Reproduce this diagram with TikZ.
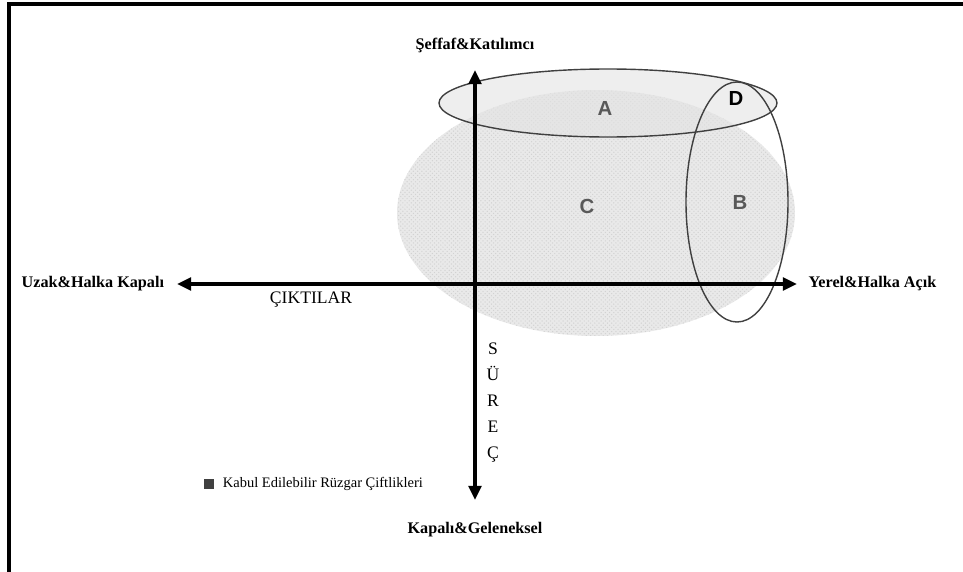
\documentclass[tikz,border=0pt]{standalone}
\usepackage{fontspec}
\setmainfont{Liberation Serif}
\newfontfamily\letterfont{Liberation Sans}
\usepackage{tikz}
\usetikzlibrary{arrows.meta,positioning,patterns}

\tikzset{
  axislabel/.style={font=\fontsize{11.5}{13}\selectfont\bfseries, inner sep=0pt},
  plainlabel/.style={font=\fontsize{12.5}{14}\selectfont, inner sep=0pt},
  zone/.style={font=\letterfont\fontsize{14.5}{16}\selectfont\bfseries, text=black!65, inner sep=0pt},
  axis/.style={line width=2.6pt, {Triangle[length=10pt,width=9pt]}-{Triangle[length=10pt,width=9pt]}},
  frame/.style={line width=2.2pt}
}

\begin{document}
\begin{tikzpicture}[x=0.025cm, y=-0.025cm]
            \useasboundingbox (0,0) rectangle (963,572);

            % Frame
            \coordinate (ftr) at (963,4);
            \coordinate (ftl) at (9,4);
            \coordinate (fbl) at (9,572);
            \draw[frame] (ftr) -- (ftl) -- (fbl);

            % Regions
            \fill[gray!17] (596,213) ellipse [x radius=199, y radius=123];
            \fill[pattern=crosshatch dots, pattern color=gray!35] (596,213) ellipse [x radius=199, y radius=123];
            \draw[black!75, fill=gray!22, fill opacity=0.6, line width=1pt] (608,103) ellipse [x radius=169, y radius=34];
            \draw[black!75, line width=1pt] (737,202) ellipse [x radius=51, y radius=120];

            \node[zone] (a) at (605,108) {A};
            \node[zone] (c) at (587,206) {C};
            \node[zone] (b) at (740,202) {B};
            \node[zone, text=black] (d) at (736,98) {D};

            % Axes
            \coordinate (west) at (177,284);
            \coordinate (east) at (797,284);
            \coordinate (north) at (475,70);
            \coordinate (south) at (475,500);
            \draw[axis] (west) -- (east);
            \draw[axis] (south) -- (north);

            % Axis labels
            \node[axislabel] (seffaf) at (475,45) {Şeffaf\&Katılımcı};
            \node[axislabel] (kapali) at (475,530) {Kapalı\&Geleneksel};
            \node[axislabel, left=9pt of west] (uzak) {Uzak\&Halka Kapalı};
            \node[axislabel, right=8pt of east] (yerel) {Yerel\&Halka Açık};
            \node[plainlabel] (cikti) at (311,300) {ÇIKTILAR};
            \node[plainlabel, align=center, font=\fontsize{12.5}{18.5}\selectfont] (surec) at (493,403) {S\\Ü\\R\\E\\Ç};

            % Legend
            \node[fill=black!75, minimum size=7pt, inner sep=0pt] (key) at (209,484) {};
            \node[font=\fontsize{10.3}{12}\selectfont, inner sep=0pt, right=6pt of key] (keytext) {Kabul Edilebilir Rüzgar Çiftlikleri};
        \end{tikzpicture}
\end{document}
